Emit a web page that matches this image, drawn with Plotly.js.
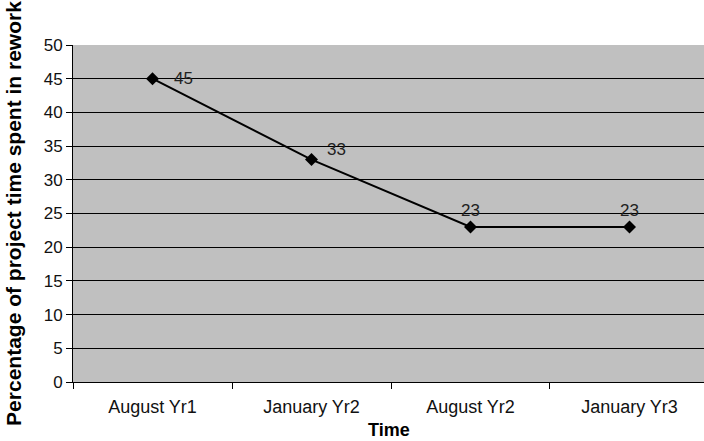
<!DOCTYPE html>
<html>
<head>
<meta charset="utf-8">
<script src="https://cdn.plot.ly/plotly-3.0.1.min.js"></script>
<style>html,body{margin:0;padding:0;background:#fff;}</style>
</head>
<body>
<div id="chart" style="width:704px;height:441px;"></div>
<script>
// Share of project time spent in rework over successive review points
const periods = ["August Yr1", "January Yr2", "August Yr2", "January Yr3"];
const reworkPct = [45, 33, 23, 23];
const yTicks = [0, 5, 10, 15, 20, 25, 30, 35, 40, 45, 50];

// value label placement per point (anchor + pixel offset from the marker)
const labelAnchor = ["left", "left", "center", "center"];
const labelDx = [19, 13, 0, 0];
const labelDy = [0, 10, 16, 16];

const baseFont = "Liberation Sans, Arial, sans-serif";

const trace = {
  x: periods,
  y: reworkPct,
  type: "scatter",
  mode: "lines+markers",
  line: {color: "#000", width: 2},
  marker: {symbol: "diamond", size: 10, color: "#000"},
  cliponaxis: false,
  hoverinfo: "skip"
};

const valueLabels = periods.map((p, i) => ({
  x: p,
  y: reworkPct[i],
  xref: "x",
  yref: "y",
  text: String(reworkPct[i]),
  showarrow: false,
  xanchor: labelAnchor[i],
  yanchor: "middle",
  xshift: labelDx[i],
  yshift: labelDy[i],
  font: {family: baseFont, size: 17, color: "#222"}
}));

// x-axis title, sitting on the bottom edge below the tick labels
const xTitle = {
  text: "Time",
  xref: "paper",
  yref: "paper",
  x: 0.5,
  y: -0.175,
  xanchor: "center",
  yanchor: "bottom",
  borderpad: 0,
  showarrow: false,
  font: {family: baseFont, size: 18, weight: "bold", color: "#000"}
};

const layout = {
  width: 704,
  height: 441,
  margin: {l: 73, r: 0, t: 45, b: 59},
  paper_bgcolor: "#ffffff",
  plot_bgcolor: "#c0c0c0",
  showlegend: false,
  font: {family: baseFont, size: 17, color: "#111"},
  annotations: valueLabels.concat([xTitle]),
  xaxis: {
    type: "category",
    range: [-0.5, 3.4686],
    tickson: "boundaries",
    ticks: "outside",
    ticklen: 6,
    tickcolor: "#000",
    ticklabelstandoff: 8,
    showline: true,
    linecolor: "#000",
    linewidth: 1,
    showgrid: false,
    zeroline: false,
    tickfont: {family: baseFont, size: 18, color: "#111"}
  },
  yaxis: {
    range: [0, 50],
    tickvals: yTicks,
    ticks: "outside",
    ticklen: 6,
    tickcolor: "#000",
    showline: true,
    linecolor: "#000",
    linewidth: 1,
    showgrid: true,
    gridcolor: "#000",
    gridwidth: 1,
    zeroline: false,
    tickfont: {family: baseFont, size: 17, color: "#111"},
    title: {text: "Percentage of project time spent in rework", font: {family: baseFont, size: 21, weight: "bold", color: "#000"}, standoff: 16}
  }
};

Plotly.newPlot("chart", [trace], layout, {staticPlot: true, displayModeBar: false});
</script>
</body>
</html>
